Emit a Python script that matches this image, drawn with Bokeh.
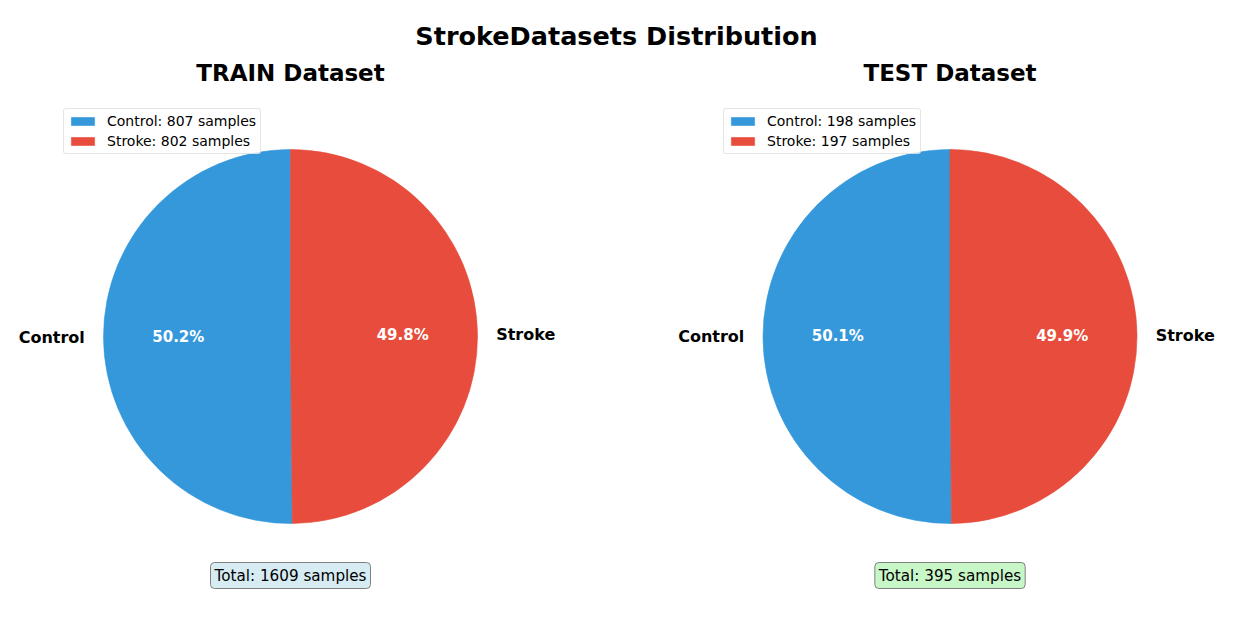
import numpy as np
from bokeh.plotting import figure
from bokeh.models import Range1d, ColumnDataSource, Legend, LegendItem, Label
from bokeh.embed import file_html
from bokeh.resources import INLINE

# ---- data ----
main_title = "StrokeDatasets Distribution"
dataset_names = ["TRAIN", "TEST"]
categories = ["Control", "Stroke"]
train_counts = [807, 802]
test_counts = [198, 197]
colors = ["#3498db", "#e74c3c"]
total_fills = ["lightblue", "lightgreen"]

FONT = "DejaVu Sans"
W, H = 1219, 601

p = figure(width=W, height=H, x_range=Range1d(0, W), y_range=Range1d(0, H),
           output_backend="svg", toolbar_location=None, min_border=0,
           x_axis_type=None, y_axis_type=None)
p.grid.visible = False
p.outline_line_color = None
p.background_fill_color = "white"
p.border_fill_color = "white"

def px(X, Y):
    return X, 601 - Y

R = 187
centers = [px(290, 336), px(949.5, 336)]
legend_locs = [(63, 447), (723, 447)]

tx, ty = px(616, 35)
p.add_layout(Label(x=tx, y=ty, text=main_title, text_font=FONT, text_font_style="bold",
                   text_font_size="25.5px", text_align="center", text_baseline="middle",
                   text_color="black"))

for k, (name, counts) in enumerate(zip(dataset_names, [train_counts, test_counts])):
    cx, cy = centers[k]
    counts = np.array(counts, dtype=float)
    total = counts.sum()
    frac = counts / total
    cum = np.concatenate([[0], np.cumsum(frac)])
    start = np.pi / 2 + 2 * np.pi * cum[:-1]
    end = np.pi / 2 + 2 * np.pi * cum[1:]
    src = ColumnDataSource(dict(start=start, end=end, color=colors))
    r = p.wedge(x=cx, y=cy, radius=R, start_angle="start", end_angle="end",
                direction="anticlock", fill_color="color", line_color="color",
                line_width=0.6, source=src)
    mid = (start + end) / 2
    for i, cat in enumerate(categories):
        lx = cx + 1.1 * R * np.cos(mid[i])
        ly = cy + 1.1 * R * np.sin(mid[i])
        p.add_layout(Label(x=lx, y=ly + 0.5, text=cat, text_font=FONT, text_font_style="bold",
                           text_font_size="16px", text_color="black",
                           text_align="right" if np.cos(mid[i]) < 0 else "left",
                           text_baseline="middle"))
        pxx = cx + 0.6 * R * np.cos(mid[i])
        pyy = cy + 0.6 * R * np.sin(mid[i])
        p.add_layout(Label(x=pxx, y=pyy + 0.5, text=f"{frac[i]*100:.1f}%", text_font=FONT,
                           text_font_style="bold", text_font_size="15px", text_color="white",
                           text_align="center", text_baseline="middle"))
    # subtitle
    sx, sy = cx, px(0, 72)[1]
    p.add_layout(Label(x=sx, y=sy, text=f"{name} Dataset", text_font=FONT,
                       text_font_style="bold", text_font_size="23px", text_color="black",
                       text_align="center", text_baseline="middle"))
    # total box
    bx, by = cx, px(0, 575)[1]
    lab = Label(x=bx, y=by, text=f"Total: {int(total)} samples", text_font=FONT,
                text_font_size="15.2px", text_align="center", text_baseline="middle",
                text_color="black",
                background_fill_color=total_fills[k], background_fill_alpha=0.5,
                border_line_color="#808080", border_line_width=1)
    try:
        lab.padding = 4
        lab.border_radius = 4
    except Exception:
        pass
    p.add_layout(lab)
    # legend
    items = [LegendItem(label=f"{c}: {int(n)} samples", renderers=[r], index=i)
             for i, (c, n) in enumerate(zip(categories, counts))]
    leg = Legend(items=items, location=legend_locs[k], label_text_font=FONT,
                 label_text_font_size="14px", label_text_color="black",
                 glyph_width=29, glyph_height=10,
                 label_height=16, spacing=4, padding=4, label_standoff=10,
                 border_line_color="#cccccc", border_line_width=1,
                 background_fill_alpha=0.8, margin=0)
    try:
        leg.border_radius = 3
    except Exception:
        pass
    p.add_layout(leg)

open("out.html", "w").write(file_html(p, INLINE))
